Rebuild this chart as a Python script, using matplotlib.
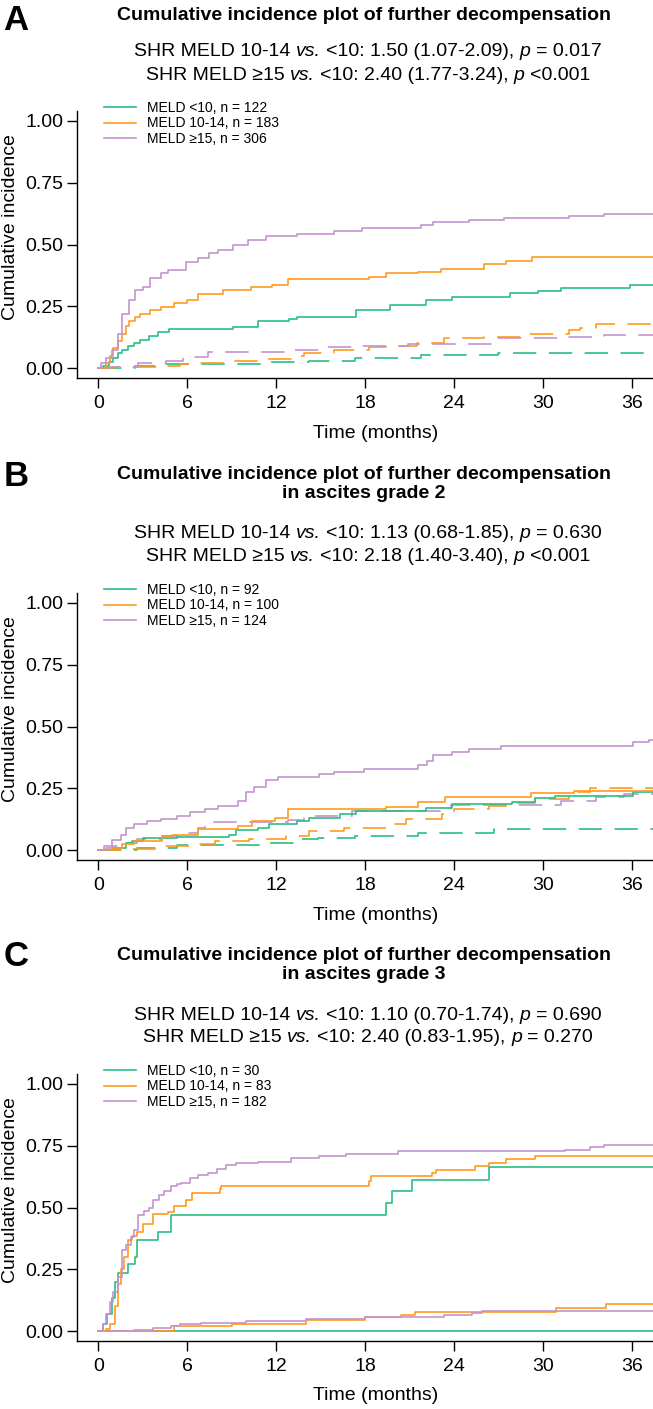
import matplotlib
matplotlib.use("Agg")
import matplotlib.pyplot as plt

plt.rcParams['font.family'] = ['Liberation Sans', 'DejaVu Sans']

# Figure size in pixels (dpi = 100)
W, H = 653, 1409

GREEN = '#2bbf80'
ORANGE = '#ff9a1f'
PURPLE = '#c393d0'

# ---------------- Panel A : all patients ----------------
a_green_t = [0.3, 0.7, 1.0, 1.3, 1.6, 2.0, 2.4, 2.8, 3.4, 4.0, 4.8, 9.1, 10.8, 12.9, 13.4,
             17.4, 19.7, 22.1, 23.9, 27.8, 29.7, 31.2, 35.9]
a_green_y = [0.01, 0.025, 0.04, 0.06, 0.075, 0.09, 0.10, 0.115, 0.13, 0.148, 0.157, 0.168, 0.19,
             0.20, 0.208, 0.235, 0.255, 0.275, 0.286, 0.305, 0.312, 0.323, 0.336]
a_orange_t = [0.5, 0.8, 1.0, 1.3, 1.6, 1.9, 2.1, 2.5, 2.8, 3.5, 4.2, 5.1, 6.0, 6.7, 8.4, 10.3,
              11.7, 12.8, 18.3, 19.4, 21.6, 23.1, 26.0, 27.5, 29.3]
a_orange_y = [0.02, 0.05, 0.08, 0.11, 0.14, 0.17, 0.19, 0.205, 0.22, 0.235, 0.248, 0.262, 0.275,
              0.30, 0.316, 0.33, 0.336, 0.36, 0.37, 0.383, 0.39, 0.40, 0.42, 0.434, 0.45]
a_purple_t = [0.2, 0.5, 0.9, 1.3, 1.6, 2.1, 2.5, 3.0, 3.5, 4.2, 4.7, 5.9, 6.7, 7.5, 8.1, 9.1,
              10.1, 11.3, 13.4, 15.9, 17.8, 21.8, 22.6, 25.0, 27.4, 31.8, 34.1, 36.0]
a_purple_y = [0.02, 0.04, 0.073, 0.14, 0.22, 0.275, 0.315, 0.33, 0.363, 0.386, 0.397, 0.43, 0.445,
              0.465, 0.478, 0.498, 0.518, 0.534, 0.542, 0.555, 0.565, 0.578, 0.589, 0.598, 0.607,
              0.614, 0.622, 0.625]
a_green_cr_t = [2.5, 4.2, 11.1, 14.2, 17.3, 21.8, 27.0]
a_green_cr_y = [0.007, 0.016, 0.024, 0.03, 0.04, 0.053, 0.063]
a_orange_cr_t = [1.0, 4.4, 5.5, 6.7, 8.6, 11.4, 13.1, 13.9, 15.9, 18.3, 19.4, 21.5, 23.3, 26.0,
                 28.9, 31.8, 32.5, 33.6]
a_orange_cr_y = [0.003, 0.009, 0.016, 0.02, 0.03, 0.036, 0.05, 0.06, 0.073, 0.086, 0.09, 0.10,
                 0.12, 0.127, 0.14, 0.156, 0.164, 0.18]
a_purple_cr_t = [0.8, 2.7, 4.6, 5.7, 7.4, 12.8, 15.4, 17.5, 20.9, 26.7, 31.8, 34.1]
a_purple_cr_y = [0.005, 0.02, 0.027, 0.045, 0.066, 0.075, 0.085, 0.09, 0.098, 0.12, 0.127, 0.133]
a_labels = ['MELD <10, n = 122', 'MELD 10-14, n = 183', 'MELD \u226515, n = 306']

# ---------------- Panel B : ascites grade 2 ----------------
b_green_t = [1.0, 1.9, 2.3, 3.0, 5.3, 8.8, 9.3, 10.8, 11.5, 13.4, 14.2, 16.3, 17.4, 22.1, 23.9,
             27.9, 29.5, 30.8, 36.1]
b_green_y = [0.01, 0.029, 0.036, 0.047, 0.054, 0.063, 0.08, 0.091, 0.104, 0.118, 0.131, 0.148,
             0.158, 0.172, 0.185, 0.196, 0.209, 0.219, 0.236]
b_orange_t = [1.0, 1.6, 2.4, 4.3, 5.0, 6.7, 9.4, 10.4, 11.9, 12.8, 19.4, 21.6, 23.4, 29.2, 32.1]
b_orange_y = [0.01, 0.023, 0.036, 0.057, 0.063, 0.084, 0.097, 0.118, 0.131, 0.167, 0.176, 0.194,
              0.216, 0.231, 0.238]
b_purple_t = [0.4, 0.9, 1.5, 1.9, 2.4, 3.3, 4.2, 5.3, 6.2, 7.2, 8.1, 9.4, 10.0, 10.5, 11.3, 12.1,
              14.9, 15.9, 17.9, 21.6, 22.2, 22.6, 23.9, 25.0, 27.2, 36.1, 37.2]
b_purple_y = [0.015, 0.04, 0.06, 0.09, 0.105, 0.118, 0.125, 0.14, 0.153, 0.167, 0.18, 0.20, 0.234,
              0.254, 0.284, 0.295, 0.308, 0.315, 0.329, 0.346, 0.362, 0.383, 0.396, 0.41, 0.423,
              0.436, 0.445]
b_green_cr_t = [2.6, 5.3, 11.0, 13.4, 14.8, 17.3, 21.6, 26.7]
b_green_cr_y = [0.01, 0.021, 0.03, 0.044, 0.05, 0.057, 0.07, 0.084]
b_orange_cr_t = [2.0, 3.8, 6.2, 7.9, 10.2, 12.7, 14.2, 16.6, 19.4, 20.8, 23.2, 24.0, 26.4, 27.5,
                 29.5, 31.8, 33.2]
b_orange_cr_y = [0.004, 0.018, 0.023, 0.036, 0.044, 0.057, 0.077, 0.091, 0.104, 0.125, 0.145,
                 0.168, 0.18, 0.19, 0.207, 0.234, 0.252]
b_purple_cr_t = [0.5, 0.9, 1.9, 2.6, 4.3, 5.8, 6.7, 7.2, 12.8, 13.9, 17.1, 23.8, 31.2, 33.6, 35.5]
b_purple_cr_y = [0.008, 0.018, 0.03, 0.044, 0.057, 0.07, 0.091, 0.112, 0.121, 0.138, 0.158,
                 0.182, 0.198, 0.214, 0.225]
b_labels = ['MELD <10, n = 92', 'MELD 10-14, n = 100', 'MELD \u226515, n = 124']

# ---------------- Panel C : ascites grade 3 ----------------
c_green_t = [0.3, 0.6, 0.9, 1.1, 1.3, 2.0, 2.5, 2.6, 4.0, 4.9, 19.4, 19.8, 21.2, 26.4]
c_green_y = [0.03, 0.07, 0.135, 0.20, 0.235, 0.27, 0.30, 0.37, 0.40, 0.468, 0.518, 0.565, 0.612,
             0.662]
c_orange_t = [0.5, 0.8, 1.1, 1.3, 1.5, 1.7, 2.0, 2.3, 2.6, 3.0, 3.7, 4.7, 5.1, 5.9, 6.3, 8.2, 8.3,
              18.3, 18.4, 22.5, 22.8, 25.4, 26.4, 27.5, 29.5]
c_orange_y = [0.01, 0.03, 0.10, 0.19, 0.25, 0.30, 0.37, 0.385, 0.40, 0.435, 0.475, 0.48, 0.505,
              0.532, 0.56, 0.573, 0.587, 0.606, 0.626, 0.64, 0.653, 0.667, 0.68, 0.696, 0.71]
c_purple_t = [0.3, 0.5, 0.8, 1.0, 1.3, 1.6, 1.9, 2.2, 2.4, 2.7, 3.1, 3.4, 3.7, 4.1, 4.4, 4.9, 5.3,
              5.6, 6.2, 6.7, 7.4, 8.0, 8.6, 9.3, 10.8, 13.0, 14.9, 16.7, 20.2, 31.5, 33.2, 34.1]
c_purple_y = [0.03, 0.07, 0.117, 0.16, 0.22, 0.33, 0.35, 0.38, 0.41, 0.47, 0.485, 0.50, 0.53,
              0.55, 0.565, 0.585, 0.595, 0.60, 0.62, 0.63, 0.64, 0.654, 0.67, 0.68, 0.686, 0.70,
              0.707, 0.718, 0.727, 0.734, 0.745, 0.751]
c_green_cr_t = []
c_green_cr_y = []
c_orange_cr_t = [5.1, 9.0, 14.0, 18.0, 20.4, 21.4, 30.9, 34.3]
c_orange_cr_y = [0.02, 0.03, 0.045, 0.058, 0.065, 0.079, 0.095, 0.11]
c_purple_cr_t = [2.4, 3.7, 4.9, 5.5, 6.2, 6.9, 10.0, 14.0, 18.0, 23.3, 25.2, 25.9]
c_purple_cr_y = [0.006, 0.013, 0.02, 0.027, 0.03, 0.034, 0.04, 0.048, 0.058, 0.066, 0.075, 0.08]
c_labels = ['MELD <10, n = 30', 'MELD 10-14, n = 83', 'MELD \u226515, n = 182']

letters = ['A', 'B', 'C']
titles = [
    'Cumulative incidence plot of further decompensation',
    'Cumulative incidence plot of further decompensation\nin ascites grade 2',
    'Cumulative incidence plot of further decompensation\nin ascites grade 3',
]
# SHR lines as (text, style) pieces, so "vs." and "p" can be italic
shr_lines = [
    [[('SHR MELD 10-14', 'normal'), ('vs.', 'italic'), ('<10: 1.50 (1.07-2.09),', 'normal'),
      ('p', 'italic'), ('= 0.017', 'normal')],
     [('SHR MELD \u226515', 'normal'), ('vs.', 'italic'), ('<10: 2.40 (1.77-3.24),', 'normal'),
      ('p', 'italic'), ('<0.001', 'normal')]],
    [[('SHR MELD 10-14', 'normal'), ('vs.', 'italic'), ('<10: 1.13 (0.68-1.85),', 'normal'),
      ('p', 'italic'), ('= 0.630', 'normal')],
     [('SHR MELD \u226515', 'normal'), ('vs.', 'italic'), ('<10: 2.18 (1.40-3.40),', 'normal'),
      ('p', 'italic'), ('<0.001', 'normal')]],
    [[('SHR MELD 10-14', 'normal'), ('vs.', 'italic'), ('<10: 1.10 (0.70-1.74),', 'normal'),
      ('p', 'italic'), ('= 0.690', 'normal')],
     [('SHR MELD \u226515', 'normal'), ('vs.', 'italic'), ('<10: 2.40 (0.83-1.95),', 'normal'),
      ('p', 'italic'), ('= 0.270', 'normal')]],
]
x_ticks = [0, 6, 12, 18, 24, 30, 36]
y_ticks = [0.00, 0.25, 0.50, 0.75, 1.00]

panels = [
    (a_green_t, a_green_y, a_orange_t, a_orange_y, a_purple_t, a_purple_y,
     a_green_cr_t, a_green_cr_y, a_orange_cr_t, a_orange_cr_y, a_purple_cr_t, a_purple_cr_y, a_labels),
    (b_green_t, b_green_y, b_orange_t, b_orange_y, b_purple_t, b_purple_y,
     b_green_cr_t, b_green_cr_y, b_orange_cr_t, b_orange_cr_y, b_purple_cr_t, b_purple_cr_y, b_labels),
    (c_green_t, c_green_y, c_orange_t, c_orange_y, c_purple_t, c_purple_y,
     c_green_cr_t, c_green_cr_y, c_orange_cr_t, c_orange_cr_y, c_purple_cr_t, c_purple_cr_y, c_labels),
]
# competing-risk curves are dashed in A and B, solid in C
cr_dashed = [True, True, False]

# axes tops in pixels
ax_tops = [111, 593, 1074]
ax_h = 267
ax_left, ax_right = 77, 653


def fx(px):
    return px / W


def fy(py):
    return 1 - py / H


def stairs(ax, t, y, color, dashed=False, label=None):
    tt = [0] + list(t) + [38.5]
    yy = [0] + list(y) + [y[-1] if len(y) else 0]
    ls = (0, (14, 7.5)) if dashed else '-'
    ax.step(tt, yy, where='post', color=color, lw=1.2, linestyle=ls, label=label)


def rich_line(fig, cx, cy, pieces, size=14):
    # lay out pieces one after the other, centred on cx
    r = fig.canvas.get_renderer()
    sp = 0.278 * size * 100 / 72
    texts, widths = [], []
    for s, style in pieces:
        t = fig.text(0, fy(cy), s, fontsize=size, fontstyle=style, ha='left', va='center')
        widths.append(t.get_window_extent(r).width)
        texts.append(t)
    total = sum(widths) + sp * (len(pieces) - 1)
    x = cx - total / 2
    for t, w in zip(texts, widths):
        t.set_x(fx(x))
        x += w + sp


fig = plt.figure(figsize=(W / 100, H / 100), dpi=100)

for i, p in enumerate(panels):
    top = ax_tops[i]
    ax = fig.add_axes([fx(ax_left), fy(top + ax_h), fx(ax_right - ax_left), ax_h / H])
    labels = p[12]
    stairs(ax, p[6], p[7], GREEN, cr_dashed[i])
    stairs(ax, p[8], p[9], ORANGE, cr_dashed[i])
    stairs(ax, p[10], p[11], PURPLE, cr_dashed[i])
    stairs(ax, p[0], p[1], GREEN, label=labels[0])
    stairs(ax, p[2], p[3], ORANGE, label=labels[1])
    stairs(ax, p[4], p[5], PURPLE, label=labels[2])

    ax.set_xlim(-1.44, 37.44)
    ax.set_ylim(-0.04, 1.04)
    ax.set_xticks(x_ticks)
    ax.set_yticks(y_ticks)
    ax.set_yticklabels(['%.2f' % v for v in y_ticks])
    for s in ['top', 'right']:
        ax.spines[s].set_visible(False)
    for s in ['left', 'bottom']:
        ax.spines[s].set_linewidth(1.0)
    ax.tick_params(direction='out', length=7, width=1.0, labelsize=14)
    ax.tick_params(axis='y', pad=3)
    ax.tick_params(axis='x', pad=5)

    ax.legend(loc='upper left', bbox_to_anchor=(fx(104), fy(top - 10)),
              bbox_transform=fig.transFigure, frameon=False, fontsize=10,
              handlelength=2.3, handletextpad=0.8, labelspacing=0.1,
              borderpad=0, borderaxespad=0)

    # text around the panel
    fig.text(fx(16), fy(top - 90 - (27 if i else 0)), letters[i], fontsize=25,
             fontweight='bold', ha='center', va='center')
    if i == 0:
        fig.text(fx(364), fy(top - 95), titles[i], fontsize=14, fontweight='bold',
                 ha='center', va='center')
    else:
        fig.text(fx(364), fy(top - 109), titles[i], fontsize=14, fontweight='bold',
                 ha='center', va='center', linespacing=1.15)
    rich_line(fig, 368, top - 59, shr_lines[i][0])
    rich_line(fig, 368, top - 36, shr_lines[i][1])
    fig.text(fx(11), fy(top + 116), 'Cumulative incidence', fontsize=14, rotation=90,
             ha='center', va='center')
    fig.text(fx(376), fy(top + 322), 'Time (months)', fontsize=14, ha='center', va='center')

fig.savefig('out.png', dpi=100)
